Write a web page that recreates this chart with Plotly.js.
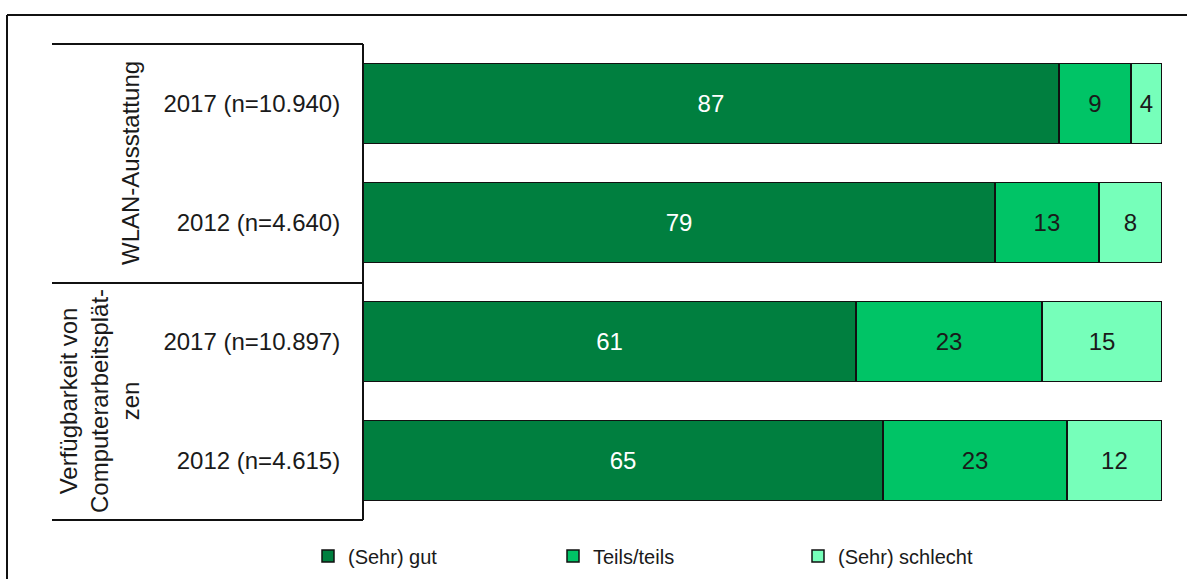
<!DOCTYPE html>
<html>
<head>
<meta charset="utf-8">
<script src="https://cdn.plot.ly/plotly-3.0.1.min.js"></script>
<style>html,body{margin:0;padding:0;background:#fff;}#chart{width:1187px;height:579px;}</style>
</head>
<body>
<div id="chart"></div>
<script>
// ---- data ----
const categories = ["2017 (n=10.940)", "2012 (n=4.640)", "2017 (n=10.897)", "2012 (n=4.615)"];
const groups = ["WLAN-Ausstattung", "Verfügbarkeit von<br>Computerarbeitsplät-<br>zen"];
const seriesNames = ["(Sehr) gut", "Teils/teils", "(Sehr) schlecht"];
const gut = [87.1, 79.1, 61.7, 65.1];
const teils = [9.0, 13.0, 23.3, 23.0];
const schlecht = [3.9, 7.9, 15.0, 11.9];
const gutLabels = ["87", "79", "61", "65"];
const teilsLabels = ["9", "13", "23", "23"];
const schlechtLabels = ["4", "8", "15", "12"];

// ---- layout geometry ----
const W = 1187, H = 579;
const L = 363, R = 1162, T = 44, B = 520;
const px = x => (x - L) / (R - L);
const py = y => (B - y) / (B - T);
const FONT = "'Liberation Sans', Arial, sans-serif";
const colors = ["#007F3F", "#00C466", "#76FFBA"];

function trace(name, vals, labels, color, txtColor) {
  return {
    type: "bar", orientation: "h", name: name,
    y: categories, x: vals, text: labels,
    textposition: "inside", insidetextanchor: "middle", constraintext: "none",
    textfont: {family: FONT, size: 24, color: txtColor},
    marker: {color: color, line: {color: "#111", width: 1.5}},
    width: 0.67, hoverinfo: "none"
  };
}
const data = [
  trace(seriesNames[0], gut, gutLabels, colors[0], "#ffffff"),
  trace(seriesNames[1], teils, teilsLabels, colors[1], "#1a1a1a"),
  trace(seriesNames[2], schlecht, schlechtLabels, colors[2], "#1a1a1a")
];

const line = (x0, y0, x1, y1, w) => ({type: "line", xref: "paper", yref: "paper",
  x0: px(x0), y0: py(y0), x1: px(x1), y1: py(y1), line: {color: "#111", width: w || 2}});

const layout = {
  width: W, height: H,
  margin: {l: L, r: W - R, t: T, b: H - B, pad: 0, autoexpand: false},
  paper_bgcolor: "#fff", plot_bgcolor: "#fff",
  barmode: "stack", bargap: 0.33,
  showlegend: true,
  font: {family: FONT, color: "#1a1a1a"},
  xaxis: {range: [0, 100], visible: false, showgrid: false, zeroline: false, fixedrange: true},
  yaxis: {type: "category", categoryorder: "array", categoryarray: categories, autorange: "reversed",
    showgrid: false, zeroline: false, showline: false,
    ticks: "outside", ticklen: 17, tickcolor: "rgba(0,0,0,0)",
    tickfont: {family: FONT, size: 24, color: "#1a1a1a"}},
  legend: {orientation: "h", xref: "container", yref: "container",
    x: 308 / W, xanchor: "left", y: 1 - 556 / H, yanchor: "middle",
    entrywidth: 200, entrywidthmode: "pixels", traceorder: "normal",
    font: {family: FONT, size: 20, color: "#1a1a1a"}},
  shapes: [
    line(7, 15, 1200, 15),
    line(7, 15, 7, 600),
    line(52, 44, 363, 44),
    line(52, 283, 363, 283),
    line(52, 520, 363, 520),
    line(363, 44, 363, 520)
  ],
  annotations: [
    {text: groups[0], xref: "paper", yref: "paper", x: px(130), y: py(163), textangle: -90,
      xanchor: "center", yanchor: "middle",
      showarrow: false, font: {family: FONT, size: 24, color: "#1a1a1a"}, align: "center"},
    {text: groups[1], xref: "paper", yref: "paper", x: px(99), y: py(401), textangle: -90,
      xanchor: "center", yanchor: "middle",
      showarrow: false, font: {family: FONT, size: 24, color: "#1a1a1a"}, align: "center"}
  ]
};

Plotly.newPlot("chart", data, layout, {displayModeBar: false, staticPlot: true});
</script>
</body>
</html>
